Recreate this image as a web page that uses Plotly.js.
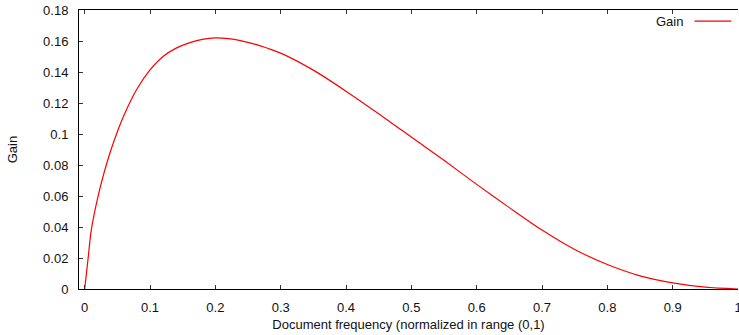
<!DOCTYPE html>
<html>
<head>
<meta charset="utf-8">
<script src="https://cdn.plot.ly/plotly-3.0.1.min.js"></script>
<style>
  html, body { margin: 0; padding: 0; background: #fff; }
  #chart { width: 739px; height: 335px; }
</style>
</head>
<body>
<div id="chart"></div>
<script>
// Document frequency (normalized)
const docFreq = [0, 0.005, 0.01, 0.02, 0.03, 0.04, 0.05, 0.06, 0.08, 0.1,
  0.12, 0.14, 0.16, 0.18, 0.2, 0.22, 0.24, 0.26, 0.28, 0.3,
  0.35, 0.4, 0.45, 0.5, 0.55, 0.6, 0.65, 0.7, 0.75, 0.8,
  0.85, 0.9, 0.95, 1.0];
// Gain values
const gain = [0, 0.0188, 0.0378, 0.0590, 0.0755, 0.0895, 0.1015, 0.1120, 0.1290, 0.1413,
  0.1500, 0.1554, 0.1588, 0.1610, 0.1620, 0.1615, 0.1601, 0.1580, 0.1553, 0.1522,
  0.1412, 0.1276, 0.1130, 0.0980, 0.0830, 0.0675, 0.0525, 0.0380, 0.0255, 0.0158,
  0.0085, 0.0040, 0.0012, 0];

const xTickVals = [0, 0.1, 0.2, 0.3, 0.4, 0.5, 0.6, 0.7, 0.8, 0.9, 1];
const xTickText = ["0", "0.1", "0.2", "0.3", "0.4", "0.5", "0.6", "0.7", "0.8", "0.9", "1"];
const yTickVals = [0, 0.02, 0.04, 0.06, 0.08, 0.1, 0.12, 0.14, 0.16, 0.18];
const yTickText = ["0", "0.02", "0.04", "0.06", "0.08", "0.1", "0.12", "0.14", "0.16", "0.18"];

const seriesName = "Gain";
const xTitle = "Document frequency (normalized in range (0,1)";
const yTitle = "Gain";

const fontFamily = "'Liberation Sans', Arial, Helvetica, sans-serif";

const trace = {
  x: docFreq,
  y: gain,
  type: "scatter",
  mode: "lines",
  name: seriesName,
  line: { color: "#ff0000", width: 1.2, shape: "spline", smoothing: 0.8 },
  showlegend: false,
  hoverinfo: "skip"
};

const layout = {
  width: 739,
  height: 335,
  margin: { l: 79, r: 1, t: 10, b: 46, pad: 0 },
  paper_bgcolor: "#ffffff",
  plot_bgcolor: "#ffffff",
  font: { family: fontFamily, size: 13, color: "#111" },
  showlegend: false,
  xaxis: {
    range: [-0.0087, 1.0],
    tickmode: "array",
    tickvals: xTickVals,
    ticktext: xTickText,
    ticks: "inside",
    ticklen: 4,
    tickwidth: 1,
    tickcolor: "#333",
    showline: true,
    linecolor: "#000",
    linewidth: 1,
    mirror: "ticks",
    showgrid: false,
    zeroline: false,
    ticklabelstandoff: 6,
    ticklabeloverflow: "allow",
    tickfont: { family: fontFamily, size: 13, color: "#111" },
    title: { text: xTitle, font: { family: fontFamily, size: 13, color: "#111" }, standoff: 6 }
  },
  yaxis: {
    range: [0, 0.18],
    tickmode: "array",
    tickvals: yTickVals,
    ticktext: yTickText,
    ticks: "inside",
    ticklen: 4,
    tickwidth: 1,
    tickcolor: "#333",
    showline: true,
    linecolor: "#000",
    linewidth: 1,
    mirror: false,
    showgrid: false,
    zeroline: false,
    ticklabelstandoff: 7,
    ticklabeloverflow: "allow",
    tickfont: { family: fontFamily, size: 13, color: "#111" },
    title: { text: yTitle, font: { family: fontFamily, size: 13, color: "#111" }, standoff: 22 }
  },
  annotations: [{
    xref: "paper", yref: "paper",
    x: 0.919, y: 0.96,
    xanchor: "right", yanchor: "middle",
    text: seriesName, showarrow: false,
    font: { family: fontFamily, size: 13, color: "#111" }
  }],
  shapes: [{
    type: "line", xref: "paper", yref: "paper",
    x0: 0.934, x1: 0.99, y0: 0.96, y1: 0.96,
    line: { color: "#ff0000", width: 1.2 }
  }]
};

Plotly.newPlot("chart", [trace], layout, { displayModeBar: false, staticPlot: true });
</script>
</body>
</html>
